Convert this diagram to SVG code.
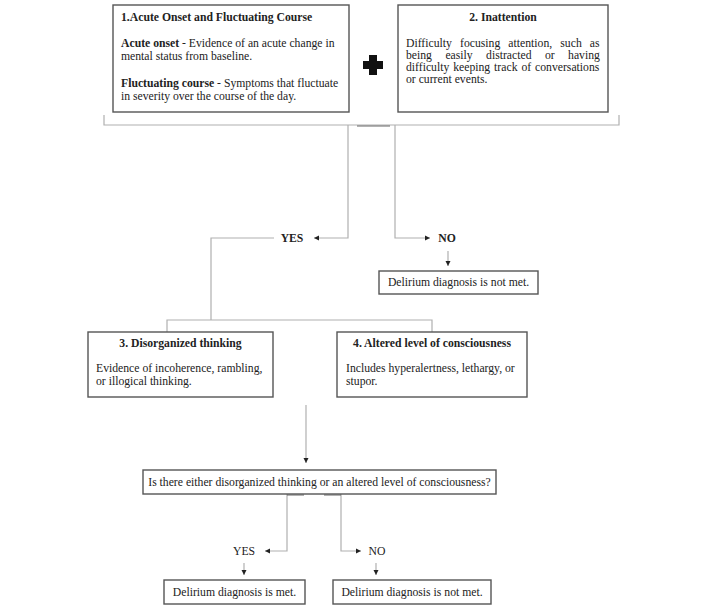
<svg xmlns="http://www.w3.org/2000/svg" width="708" height="612" viewBox="0 0 708 612">
<style>
text{font-family:"Liberation Serif","Times New Roman",serif;font-size:11.7px;fill:#222}
.b{font-weight:bold}
.m{text-anchor:middle}
.box{fill:#fff;stroke:#555;stroke-width:1.4}
.c{fill:none;stroke:#b0b0b0;stroke-width:1.2}
.d{fill:none;stroke:#666;stroke-width:1.2}
</style>
<defs>
<marker id="ah" markerWidth="6" markerHeight="6" refX="5" refY="3" orient="auto" markerUnits="userSpaceOnUse">
<path d="M0,0.5 L5,3 L0,5.5 Z" fill="#222"/>
</marker>
</defs>
<rect width="708" height="612" fill="#fff"/>
<g id="connectors">
<path class="c" d="M104,115 V125 H619 V115"/>
<path class="d" d="M357,126 H390"/>
<path class="c" d="M348,125 V238 H314" marker-end="url(#ah)"/>
<path class="c" d="M395,125 V238 H430" marker-end="url(#ah)"/>
<path class="c" d="M274,238 H211 V320"/>
<path class="c" d="M448,251 V266" marker-end="url(#ah)"/>
<path class="c" d="M167,332 V320 H432 V332"/>
<path class="c" d="M306,405 V463" marker-end="url(#ah)"/>
<path class="c" d="M287,494 V551 H265" marker-end="url(#ah)"/>
<path class="c" d="M341,494 V551 H361" marker-end="url(#ah)"/>
<path class="d" d="M287,495 H304 M324,495 H341"/>
<path class="c" d="M244,563 V575" marker-end="url(#ah)"/>
<path class="c" d="M376,563 V575" marker-end="url(#ah)"/>
</g>
<g id="node1">
<rect class="box" x="113" y="5" width="236" height="107"/>
<text class="b" x="121" y="21">1.Acute Onset and Fluctuating Course</text>
<text x="121" y="47"><tspan class="b">Acute onset</tspan> - Evidence of an acute change in</text>
<text x="121" y="60">mental status from baseline.</text>
<text x="121" y="87"><tspan class="b">Fluctuating course</tspan> - Symptoms that fluctuate</text>
<text x="121" y="100">in severity over the course of the day.</text>
</g>
<g id="plus">
<path d="M369,55 H377 V61 H383 V69 H377 V75 H369 V69 H363 V61 H369 Z" fill="#111"/>
</g>
<g id="node2">
<rect class="box" x="398" y="5" width="210" height="107"/>
<text class="b m" x="503" y="21">2. Inattention</text>
<text x="406" y="47" word-spacing="5.2">Difficulty focusing attention, such as</text>
<text x="406" y="59" word-spacing="10.5">being easily distracted or having</text>
<text x="406" y="71" word-spacing="1">difficulty keeping track of conversations</text>
<text x="406" y="83">or current events.</text>
</g>
<g id="yes1"><text class="b m" x="292" y="242">YES</text></g>
<g id="no1"><text class="b m" x="447" y="242">NO</text></g>
<g id="notmet1">
<rect class="box" x="379" y="271" width="159" height="23"/>
<text class="m" x="458.5" y="286">Delirium diagnosis is not met.</text>
</g>
<g id="node3">
<rect class="box" x="88" y="332" width="185" height="65"/>
<text class="b m" x="180.5" y="347">3. Disorganized thinking</text>
<text x="96" y="372">Evidence of incoherence, rambling,</text>
<text x="96" y="385">or illogical thinking.</text>
</g>
<g id="node4">
<rect class="box" x="337" y="332" width="190" height="65"/>
<text class="b m" x="432" y="347">4. Altered level of consciousness</text>
<text x="346" y="372">Includes hyperalertness, lethargy, or</text>
<text x="346" y="385">stupor.</text>
</g>
<g id="question">
<rect class="box" x="143" y="470" width="353" height="24"/>
<text class="m" x="319.5" y="486">Is there either disorganized thinking or an altered level of consciousness?</text>
</g>
<g id="yes2"><text class="m" x="244" y="555">YES</text></g>
<g id="no2"><text class="m" x="377" y="555">NO</text></g>
<g id="met">
<rect class="box" x="164" y="580" width="141" height="24"/>
<text class="m" x="234.5" y="596">Delirium diagnosis is met.</text>
</g>
<g id="notmet2">
<rect class="box" x="333" y="580" width="158" height="24"/>
<text class="m" x="412" y="596">Delirium diagnosis is not met.</text>
</g>
</svg>
